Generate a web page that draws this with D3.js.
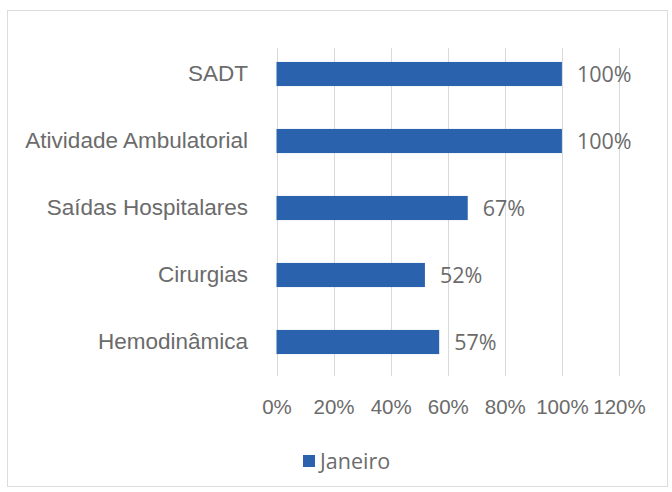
<!DOCTYPE html>
<html>
<head>
<meta charset="utf-8">
<script src="https://cdn.jsdelivr.net/npm/d3@7"></script>
<style>
  body { margin: 0; background: #fff; }
  svg { display: block; font-family: "Open Sans", Lato, sans-serif; }
</style>
</head>
<body>
<svg id="chart" width="672" height="492"></svg>
<script>
const categories = [
  "SADT",
  "Atividade Ambulatorial",
  "Saídas Hospitalares",
  "Cirurgias",
  "Hemodinâmica",
];
const janeiro = [1.00, 1.00, 0.67, 0.52, 0.57];
const ticks = [0, 0.2, 0.4, 0.6, 0.8, 1.0, 1.2];
const seriesName = "Janeiro";

const width = 672;
const height = 492;
const barColor = "#2a62ad";
const textColor = "#6b6b6b";
const fontSize = 22.5;

const svg = d3.select("#chart");

// outer chart frame
svg.append("rect")
  .attr("x", 7.5)
  .attr("y", 10.5)
  .attr("width", 660)
  .attr("height", 476)
  .attr("fill", "#fff")
  .attr("stroke", "#dcdcdc");

const x = d3.scaleLinear()
  .domain([0, 1.2])
  .range([276.5, 619]);

const y = d3.scaleBand()
  .domain(categories)
  .range([40.5, 375.5])
  .paddingInner(0.64)
  .paddingOuter(0.32);

const fmt = d3.format(".0%");

// vertical gridlines
svg.append("g")
  .selectAll("line")
  .data(ticks)
  .join("line")
  .attr("x1", d => Math.round(x(d)) + 0.5)
  .attr("x2", d => Math.round(x(d)) + 0.5)
  .attr("y1", 48)
  .attr("y2", 376)
  .attr("stroke", "#d9d9d9")
  .attr("stroke-width", 1);

// x axis labels
const xAxis = g => g
  .call(d3.axisBottom(x).tickValues(ticks).tickFormat(fmt).tickSize(0).tickPadding(0))
  .call(g => g.select(".domain").remove())
  .call(g => g.selectAll("text")
    .attr("fill", textColor)
    .attr("font-size", 20.5)
    .attr("dy", "0.35em")
    .attr("y", 0));

svg.append("g")
  .attr("transform", "translate(0,407)")
  .call(xAxis);

// y axis labels
const yAxis = g => g
  .call(d3.axisLeft(y).tickSize(0).tickPadding(0))
  .call(g => g.select(".domain").remove())
  .call(g => g.selectAll("text")
    .attr("fill", textColor)
    .attr("font-size", fontSize)
    .attr("x", 0));

svg.append("g")
  .attr("transform", "translate(248,0)")
  .call(yAxis);

// bars
svg.append("g")
  .selectAll("rect")
  .data(janeiro)
  .join("rect")
  .attr("x", x(0))
  .attr("y", (d, i) => y(categories[i]))
  .attr("width", d => x(d) - x(0))
  .attr("height", y.bandwidth())
  .attr("fill", barColor);

// value labels
svg.append("g")
  .selectAll("text")
  .data(janeiro)
  .join("text")
  .attr("x", d => x(d) + 15)
  .attr("y", (d, i) => y(categories[i]) + y.bandwidth() / 2)
  .attr("dy", "0.35em")
  .attr("fill", textColor)
  .attr("font-size", 21.5)
  .text(d => fmt(d));

// legend
const legend = svg.append("g").attr("transform", "translate(303,455)");
legend.append("rect")
  .attr("width", 12)
  .attr("height", 12)
  .attr("fill", barColor);
legend.append("text")
  .attr("x", 17)
  .attr("y", 6.5)
  .attr("dy", "0.35em")
  .attr("fill", textColor)
  .attr("font-size", 21.5)
  .text(seriesName);
</script>
</body>
</html>
